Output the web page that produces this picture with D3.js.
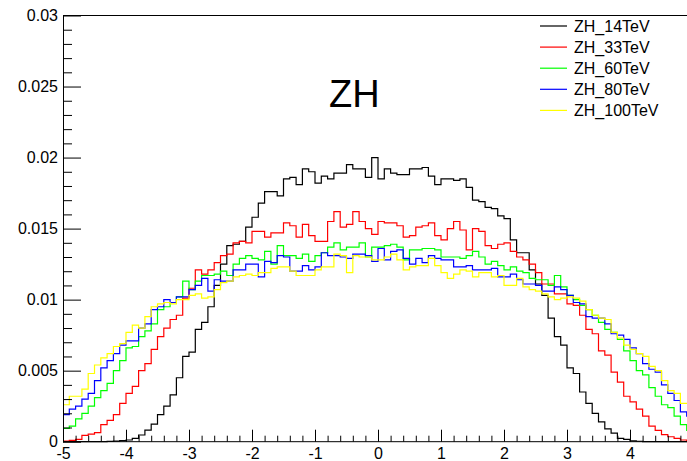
<!DOCTYPE html>
<html>
<head>
<meta charset="utf-8">
<script src="https://cdn.jsdelivr.net/npm/d3@7"></script>
<style>
  html, body { margin: 0; padding: 0; background: #fff; }
  svg { display: block; font-family: "Liberation Sans", Arial, Helvetica, sans-serif; }
</style>
</head>
<body>
<div id="chart"></div>
<script>
// binning of all histograms: 100 bins on [-5, 5]
const xMin = -5;
const xMax = 5;
const nBins = 100;

const seriesNames = ['ZH_14TeV', 'ZH_33TeV', 'ZH_60TeV', 'ZH_80TeV', 'ZH_100TeV'];
const seriesColors = ['#000000', '#ff0000', '#00ff00', '#0000ff', '#ffff00'];

const zh14 = [
  0, 0, 0, 0, 0, 0, 0, 0.00002, 0.00004, 0.00008,
  0.00012, 0.00023, 0.00047, 0.00082, 0.00124, 0.0019, 0.0025, 0.0033, 0.0045, 0.0060,
  0.0063, 0.0079, 0.0084, 0.0095, 0.0110, 0.0125, 0.0138, 0.0139, 0.0141, 0.0151,
  0.0158, 0.0168, 0.0176, 0.0176, 0.0173, 0.0185, 0.0186, 0.0181, 0.0192, 0.0190,
  0.0182, 0.0187, 0.0185, 0.0189, 0.0189, 0.0195, 0.0192, 0.0192, 0.0186, 0.0200,
  0.0185, 0.0192, 0.0189, 0.0188, 0.0188, 0.0192, 0.0192, 0.0193, 0.0187, 0.0181,
  0.0185, 0.0185, 0.0184, 0.0185, 0.0179, 0.0170, 0.0169, 0.0165, 0.0164, 0.0159,
  0.0157, 0.0142, 0.0133, 0.0133, 0.0121, 0.0111, 0.0103, 0.0087, 0.0074, 0.0068,
  0.0052, 0.0048, 0.0035, 0.0027, 0.0020, 0.0014, 0.0009, 0.0006, 0.00024, 0.00016,
  0.00006, 0.00003, 0, 0, 0, 0, 0, 0, 0, 0
];
const zh33 = [
  0.00005, 0.0001, 0.00017, 0.00045, 0.00054, 0.00064, 0.0012, 0.0015, 0.0019, 0.0027,
  0.0034, 0.0039, 0.0050, 0.0055, 0.0065, 0.0074, 0.0080, 0.0086, 0.0089, 0.0101,
  0.0108, 0.0121, 0.0118, 0.0121, 0.0126, 0.0131, 0.0132, 0.0140, 0.0141, 0.0140,
  0.0148, 0.0148, 0.0144, 0.0147, 0.0147, 0.0154, 0.0152, 0.0144, 0.0153, 0.0145,
  0.0141, 0.0141, 0.0155, 0.0162, 0.0151, 0.0153, 0.0162, 0.0155, 0.0150, 0.0146,
  0.0155, 0.0154, 0.0154, 0.0152, 0.0144, 0.0145, 0.0151, 0.0152, 0.0154, 0.0145,
  0.0142, 0.0150, 0.0155, 0.0149, 0.0135, 0.0150, 0.0148, 0.0138, 0.0136, 0.0139,
  0.0140, 0.0134, 0.0130, 0.0128, 0.0125, 0.0119, 0.0111, 0.0111, 0.0104, 0.0104,
  0.0097, 0.0096, 0.0089, 0.0079, 0.0076, 0.0064, 0.0061, 0.0049, 0.0042, 0.0032,
  0.0028, 0.0023, 0.0018, 0.0011, 0.0008, 0.0005, 0.00035, 0.00023, 0.00012, 0.00007
];
const zh60 = [
  0.00094, 0.0011, 0.0016, 0.0020, 0.0025, 0.0031, 0.0036, 0.0041, 0.0050, 0.0057,
  0.0066, 0.0067, 0.0074, 0.0078, 0.0083, 0.0093, 0.0095, 0.0098, 0.0102, 0.0113,
  0.0107, 0.0113, 0.0117, 0.0117, 0.0118, 0.0120, 0.0117, 0.0125, 0.0129, 0.0131,
  0.0129, 0.0128, 0.0134, 0.0125, 0.0138, 0.0131, 0.0131, 0.0129, 0.0132, 0.0127,
  0.0131, 0.0133, 0.0137, 0.0140, 0.0135, 0.0137, 0.0137, 0.0140, 0.0130, 0.0137,
  0.0137, 0.0138, 0.0139, 0.0137, 0.0128, 0.0135, 0.0135, 0.0136, 0.0136, 0.0135,
  0.0130, 0.0130, 0.0130, 0.0129, 0.0131, 0.0134, 0.0130, 0.0125, 0.0127, 0.0124,
  0.0121, 0.0123, 0.0120, 0.0119, 0.0115, 0.0114, 0.0114, 0.0110, 0.0117, 0.0109,
  0.0103, 0.0100, 0.0096, 0.0093, 0.0089, 0.0084, 0.0079, 0.0077, 0.0072, 0.0064,
  0.0057, 0.0050, 0.0047, 0.0038, 0.0032, 0.0026, 0.0024, 0.0018, 0.0012, 0.0008
];
const zh80 = [
  0.0019, 0.0023, 0.0025, 0.0030, 0.0034, 0.0043, 0.0052, 0.0057, 0.0062, 0.0068,
  0.0071, 0.0071, 0.0080, 0.0083, 0.0093, 0.0095, 0.0100, 0.0098, 0.0102, 0.0102,
  0.0107, 0.0110, 0.0115, 0.0106, 0.0114, 0.0113, 0.0113, 0.0121, 0.0121, 0.0125,
  0.0125, 0.0116, 0.0127, 0.0126, 0.0131, 0.0130, 0.0120, 0.0120, 0.0124, 0.0121,
  0.0123, 0.0133, 0.0131, 0.0131, 0.0130, 0.0129, 0.0132, 0.0132, 0.0131, 0.0127,
  0.0136, 0.0128, 0.0134, 0.0135, 0.0129, 0.0125, 0.0129, 0.0126, 0.0131, 0.0129,
  0.0128, 0.0128, 0.0123, 0.0123, 0.0124, 0.0121, 0.0121, 0.0121, 0.0122, 0.0116,
  0.0116, 0.0118, 0.0114, 0.0111, 0.0111, 0.0110, 0.0106, 0.0106, 0.0109, 0.0107,
  0.0103, 0.0098, 0.0097, 0.0088, 0.0087, 0.0087, 0.0083, 0.0076, 0.0075, 0.0072,
  0.0066, 0.0062, 0.0055, 0.0051, 0.0049, 0.0040, 0.0034, 0.0029, 0.0021, 0.0018
];
const zh100 = [
  0.0026, 0.0032, 0.0032, 0.0037, 0.0048, 0.0054, 0.0059, 0.0062, 0.0067, 0.0069,
  0.0077, 0.0082, 0.0080, 0.0088, 0.0095, 0.0097, 0.0098, 0.0097, 0.0100, 0.0100,
  0.0103, 0.0104, 0.0101, 0.0102, 0.0107, 0.0112, 0.0113, 0.0116, 0.0117, 0.0118,
  0.0117, 0.0119, 0.0119, 0.0122, 0.0123, 0.0123, 0.0120, 0.0117, 0.0117, 0.0117,
  0.0121, 0.0123, 0.0123, 0.0132, 0.0131, 0.0119, 0.0131, 0.0130, 0.0130, 0.0128,
  0.0128, 0.0130, 0.0132, 0.0128, 0.0121, 0.0123, 0.0124, 0.0124, 0.0129, 0.0124,
  0.0119, 0.0115, 0.0118, 0.0121, 0.0120, 0.0116, 0.0119, 0.0119, 0.0116, 0.0117,
  0.0110, 0.0110, 0.0115, 0.0109, 0.0107, 0.0106, 0.0104, 0.0102, 0.0100, 0.0101,
  0.0102, 0.0101, 0.0099, 0.0093, 0.0089, 0.0087, 0.0086, 0.0077, 0.0073, 0.0068,
  0.0065, 0.0062, 0.0060, 0.0053, 0.0050, 0.0043, 0.0036, 0.0034, 0.0027, 0.0027
];
const seriesValues = [zh14, zh33, zh60, zh80, zh100];

// the tick at 5 falls just outside the window, so it carries no label
const xTickValues = [-5, -4, -3, -2, -1, 0, 1, 2, 3, 4];
const xTickLabels = ['-5', '-4', '-3', '-2', '-1', '0', '1', '2', '3', '4'];
const yTickValues = [0, 0.005, 0.01, 0.015, 0.02, 0.025, 0.03];
const yTickLabels = ['0', '0.005', '0.01', '0.015', '0.02', '0.025', '0.03'];
const titleText = 'ZH';

(() => {
  const width = 687;
  const height = 461;
  // frame: right side runs past the window edge
  const frame = { left: 63, top: 15.5, bottom: 441.7, right: 693 };

  const svg = d3.select('#chart').append('svg')
    .attr('width', width)
    .attr('height', height);

  const x = d3.scaleLinear().domain([xMin, xMax]).range([frame.left, frame.right]);
  const y = d3.scaleLinear().domain([0, 0.03]).range([frame.bottom, frame.top]);

  const binW = (xMax - xMin) / nBins;
  const edges = d3.range(nBins + 1).map(i => xMin + i * binW);

  // frame top line
  svg.append('line')
    .attr('x1', frame.left).attr('x2', frame.right)
    .attr('y1', frame.top).attr('y2', frame.top)
    .attr('stroke', '#000').attr('stroke-width', 1);

  // histograms
  const line = d3.line()
    .x(d => x(d[0]))
    .y(d => y(d[1]))
    .curve(d3.curveStepAfter);

  seriesValues.forEach((vals, k) => {
    const pts = vals.map((v, i) => [edges[i], v]);
    pts.push([edges[nBins], vals[nBins - 1]]);
    svg.append('path')
      .datum(pts)
      .attr('fill', 'none')
      .attr('stroke', seriesColors[k])
      .attr('stroke-width', 1.2)
      .attr('d', line);
  });

  // y axis: major + minor ticks pointing into the frame
  const yMinor = d3.range(0, 0.0305, 0.001).filter(v => !yTickValues.some(t => Math.abs(t - v) < 1e-9));
  svg.append('g')
    .attr('transform', `translate(${frame.left},0)`)
    .call(d3.axisLeft(y).tickValues(yMinor).tickSizeInner(-9).tickSizeOuter(0).tickFormat(''))
    .call(g => g.select('.domain').remove());
  const yAxisG = svg.append('g')
    .attr('transform', `translate(${frame.left},0)`)
    .call(d3.axisLeft(y).tickValues(yTickValues).tickSizeInner(-18).tickSizeOuter(0)
      .tickPadding(5).tickFormat((d, i) => yTickLabels[i]));
  yAxisG.attr('font-family', null);
  yAxisG.selectAll('text').attr('font-size', 16).attr('fill', '#000');

  // x axis
  const xMinor = d3.range(-5, 5.01, 0.2).filter(v => Math.abs(v - Math.round(v)) > 1e-6);
  svg.append('g')
    .attr('transform', `translate(0,${frame.bottom})`)
    .call(d3.axisBottom(x).tickValues(xMinor).tickSizeInner(-6).tickSizeOuter(0).tickFormat(''))
    .call(g => g.select('.domain').remove());
  const xAxisG = svg.append('g')
    .attr('transform', `translate(0,${frame.bottom})`)
    .call(d3.axisBottom(x).tickValues(xTickValues).tickSizeInner(-12).tickSizeOuter(0)
      .tickPadding(6).tickFormat((d, i) => xTickLabels[i]));
  xAxisG.attr('font-family', null);
  xAxisG.selectAll('text').attr('font-size', 16).attr('fill', '#000');
  // bottom axis line across the full frame width
  xAxisG.select('.domain').attr('d', `M${frame.left},0H${frame.right}`);

  svg.selectAll('.domain, .tick line').attr('stroke', '#000').attr('stroke-width', 1);

  // title
  svg.append('text')
    .attr('x', 329).attr('y', 107)
    .attr('font-size', 38)
    .attr('fill', '#000')
    .text(titleText);

  // legend
  const legend = svg.append('g');
  seriesNames.forEach((name, k) => {
    const ly = 26 + k * 21.1;
    legend.append('line')
      .attr('x1', 540).attr('x2', 567)
      .attr('y1', ly).attr('y2', ly)
      .attr('stroke', seriesColors[k]).attr('stroke-width', 1.2);
    legend.append('text')
      .attr('x', 574).attr('y', ly + 5.5)
      .attr('font-size', 16)
      .attr('fill', '#000')
      .text(name);
  });
})();
</script>
</body>
</html>
